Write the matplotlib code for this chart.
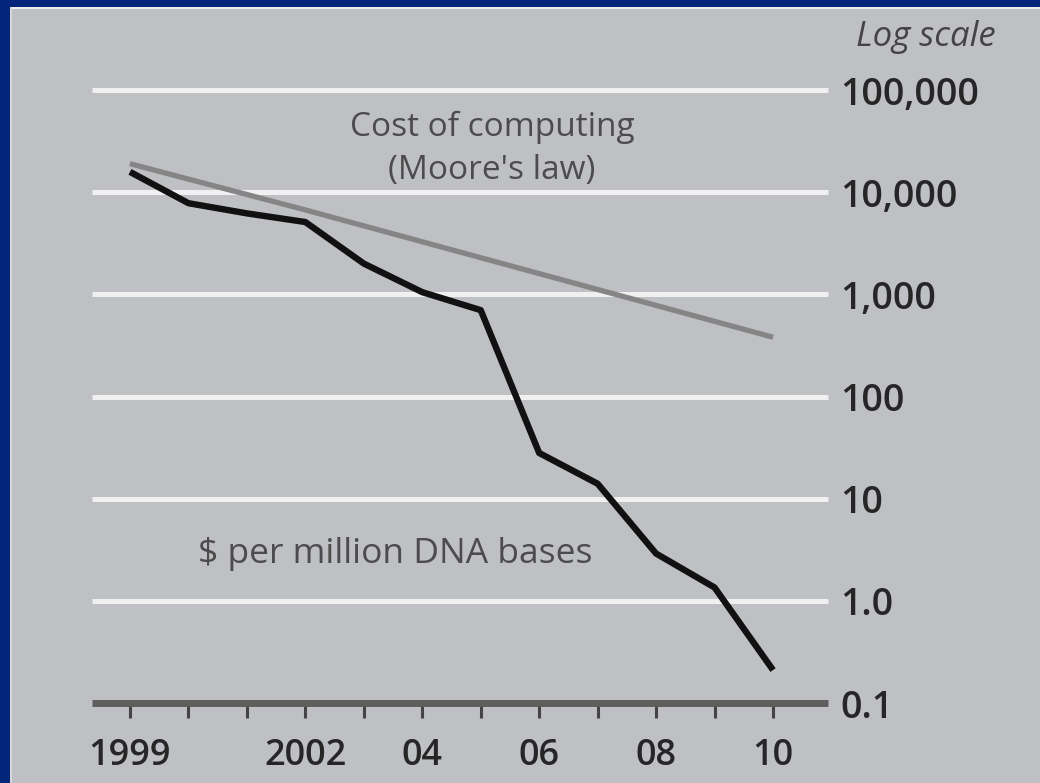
import matplotlib
matplotlib.use("Agg")
import matplotlib.pyplot as plt
from matplotlib.patches import Rectangle
from matplotlib.ticker import FixedLocator, FixedFormatter

# Cost of sequencing, dollars per million DNA bases
dna_years = [1999, 2000, 2001, 2002, 2003, 2004, 2005, 2006, 2007, 2008, 2009, 2010]
dna_cost = [15800, 7800, 6200, 5100, 2000, 1050, 700, 28, 14, 2.9, 1.35, 0.21]

# Cost of computing following Moore's law
moore_years = [1999, 2002, 2010]
moore_cost = [19000, 6700, 380]

x_ticks = list(range(1999, 2011))
x_tick_labels = ["1999", "", "", "2002", "", "04", "", "06", "", "08", "", "10"]
y_ticks = [0.1, 1, 10, 100, 1000, 10000, 100000]
y_tick_labels = ["0.1", "1.0", "10", "100", "1,000", "10,000", "100,000"]

BG = "#bfc0c4"
BLUE = "#03267a"
FONT = "Open Sans"

W, H = 1040, 783
fig = plt.figure(figsize=(W / 100, H / 100), dpi=100, facecolor=BG)

# frame: blue band along the top and left edge with a light inner rim
fig.patches.append(Rectangle((0, 1 - 7 / H), 1, 7 / H, transform=fig.transFigure,
                             facecolor=BLUE, edgecolor="none", zorder=0))
fig.patches.append(Rectangle((0, 0), 10 / W, 1, transform=fig.transFigure,
                             facecolor=BLUE, edgecolor="none", zorder=0))
fig.patches.append(Rectangle((10 / W, 1 - 9 / H), 1 - 10 / W, 2 / H, transform=fig.transFigure,
                             facecolor="#eeeeee", edgecolor="none", zorder=0))
fig.patches.append(Rectangle((10 / W, 0), 2 / W, 1 - 7 / H, transform=fig.transFigure,
                             facecolor="#d8d8da", edgecolor="none", zorder=0))

left, right = 92 / W, 828 / W
bottom, top = (H - 703) / H, (H - 90) / H
ax = fig.add_axes([left, bottom, right - left, top - bottom])
ax.set_facecolor("none")

ax.set_yscale("log")
ax.set_ylim(0.1, 100000)
ax.set_xlim(1999 - 38 / 58.5, 2010 + 55 / 58.5)

# horizontal white guides at each decade
for v in y_ticks[1:]:
    ax.axhline(v, color="#f0f0f0", lw=3.6, zorder=1, clip_on=False,
               solid_capstyle="butt")

ax.plot(moore_years, moore_cost, color="#858585", lw=3.8, zorder=3,
        solid_capstyle="butt", solid_joinstyle="round")
ax.plot(dna_years, dna_cost, color="#111111", lw=4.6, zorder=4,
        solid_capstyle="butt", solid_joinstyle="round")

for s in ["top", "left", "right"]:
    ax.spines[s].set_visible(False)
ax.spines["bottom"].set_color("#5e5e5c")
ax.spines["bottom"].set_linewidth(5)
ax.spines["bottom"].set_capstyle("butt")
ax.spines["bottom"].set_zorder(2)

ax.xaxis.set_major_locator(FixedLocator(x_ticks))
ax.xaxis.set_major_formatter(FixedFormatter(x_tick_labels))
ax.xaxis.set_minor_locator(FixedLocator([]))
ax.tick_params(axis="x", direction="out", length=11, width=2.2, color="#444444",
               pad=14, labelsize=26, labelcolor="#262626")

ax.yaxis.tick_right()
ax.yaxis.set_major_locator(FixedLocator(y_ticks))
ax.yaxis.set_major_formatter(FixedFormatter(y_tick_labels))
ax.yaxis.set_minor_locator(FixedLocator([]))
ax.tick_params(axis="y", which="both", length=0, pad=9, labelsize=27,
               labelcolor="#262626")

for lab in ax.get_xticklabels() + ax.get_yticklabels():
    lab.set_fontfamily(FONT)
    lab.set_fontweight("semibold")
for lab in ax.get_yticklabels():
    lab.set_horizontalalignment("left")

ax.text(2005.19, 43000, "Cost of computing", ha="center", va="center",
        fontsize=24, color="#4c4c4c", family=FONT, zorder=5)
ax.text(2005.19, 16400, "(Moore's law)", ha="center", va="center",
        fontsize=24, color="#4c4c4c", family=FONT, zorder=5)
ax.text(2003.53, 2.9, "$ per million DNA bases", ha="center", va="center",
        fontsize=25.5, color="#4c4c4c", family=FONT, zorder=5)

fig.text(926 / W, 1 - 37 / H, "Log scale", ha="center", va="center",
         fontsize=25, style="italic", color="#444444", family=FONT)

fig.savefig("out.png", dpi=100, facecolor=BG)
